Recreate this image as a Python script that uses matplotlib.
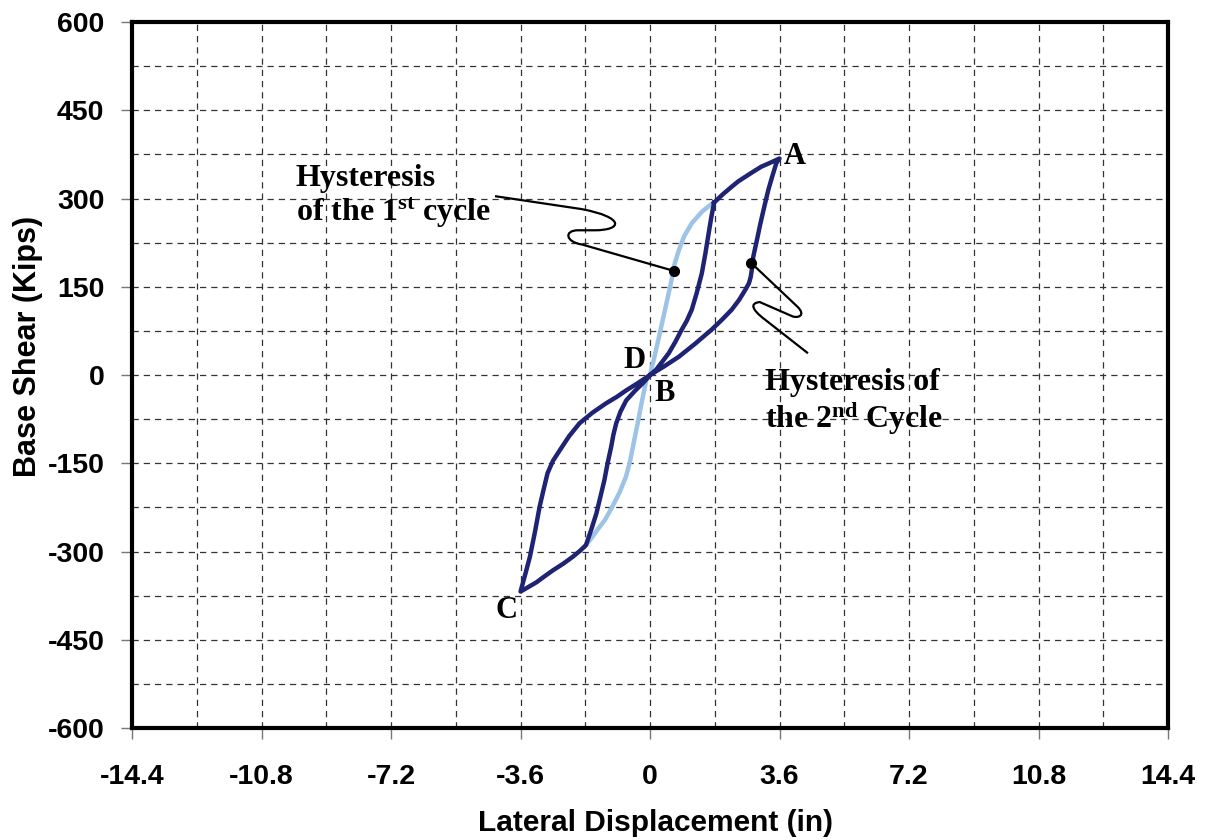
import matplotlib
matplotlib.use("Agg")
import matplotlib.pyplot as plt
from matplotlib.path import Path
from matplotlib.patches import PathPatch
from matplotlib.ticker import MultipleLocator

plt.rcParams['font.family'] = ['Liberation Sans', 'DejaVu Sans']
plt.rcParams['axes.unicode_minus'] = False
plt.rcParams['mathtext.fontset'] = 'custom'
plt.rcParams['mathtext.rm'] = 'Liberation Serif:bold'
plt.rcParams['mathtext.it'] = 'Liberation Serif:bold'
plt.rcParams['mathtext.bf'] = 'Liberation Serif:bold'

# 1st cycle (light blue)
cyc1_x = [-1.78, -1.60, -1.45, -1.25, -1.05, -0.85, -0.67, -0.55, -0.44, -0.33, -0.22, -0.10, 0.0,
          0.12, 0.25, 0.42, 0.58, 0.68, 0.80, 0.95, 1.16, 1.45, 1.76]
cyc1_y = [-289, -275, -262, -246, -224, -200, -173, -145, -111, -78, -43, -8, 0,
          30, 65, 112, 156, 188, 212, 236, 258, 278, 293]

# 2nd cycle (dark blue), one closed path
cyc2_x = [1.78, 1.70, 1.63, 1.54, 1.44, 1.30, 1.16, 1.02, 0.88, 0.70, 0.52, 0.17, 0.0,
          -0.17, -0.42, -0.66, -0.82, -0.94, -1.02, -1.08, -1.18, -1.27, -1.38, -1.49, -1.63, -1.78,
          -1.95, -2.15, -2.42, -2.70, -2.93, -3.15, -3.40, -3.60,
          -3.47, -3.34, -3.20, -3.07, -2.96, -2.85, -2.70, -2.51, -2.25, -1.96, -1.60, -1.22, -0.92, -0.66, -0.32, 0.0,
          0.40, 0.80, 1.25, 1.71, 2.00, 2.27, 2.48, 2.65, 2.75, 2.80, 2.84, 2.87, 2.97, 3.07, 3.18, 3.29, 3.40, 3.51, 3.60,
          3.35, 3.09, 2.88, 2.65, 2.45, 2.27, 2.02, 1.78]
cyc2_y = [293, 267, 241, 207, 173, 140, 111, 92, 77, 56, 37, 9, 0,
          -12, -27, -43, -62, -82, -102, -122, -150, -179, -207, -235, -262, -289,
          -299, -309, -321, -332, -342, -352, -361, -368,
          -339, -309, -267, -224, -195, -167, -146, -128, -104, -82, -64, -48, -37, -26, -13, 0,
          15, 31, 53, 77, 94, 111, 128, 145, 156, 167, 183, 201, 229, 258, 287, 315, 338, 360, 368,
          361, 354, 346, 337, 329, 320, 307, 293]

x_ticks = [-14.4, -10.8, -7.2, -3.6, 0, 3.6, 7.2, 10.8, 14.4]
x_labels = ["-14.4", "-10.8", "-7.2", "-3.6", "0", "3.6", "7.2", "10.8", "14.4"]
y_ticks = [-600, -450, -300, -150, 0, 150, 300, 450, 600]

point_labels = ["A", "B", "C", "D"]
point_x = [4.03, 0.40, -3.98, -0.42]
point_y = [372, -32, -400, 24]

fig = plt.figure(figsize=(12.07, 8.4), dpi=100)
ax = fig.add_axes([0.1094, 0.1333, 0.8583, 0.8405])

ax.plot(cyc1_x, cyc1_y, color="#9dc3e6", lw=3.2, zorder=3, solid_capstyle="round",
        solid_joinstyle="round")
ax.plot(cyc2_x, cyc2_y, color="#1f2374", lw=3.2, zorder=4, solid_joinstyle="round")

ax.set_xlim(-14.4, 14.4)
ax.set_ylim(-600, 600)
ax.set_xticks(x_ticks)
ax.set_xticklabels(x_labels)
ax.set_yticks(y_ticks)
ax.xaxis.set_minor_locator(MultipleLocator(1.8))
ax.yaxis.set_minor_locator(MultipleLocator(75))
ax.grid(True, which="both", color="#333333", ls=(0, (5, 4)), lw=0.9)
ax.tick_params(which="minor", length=0)
ax.tick_params(which="major", length=8, width=1, color="#777777", labelsize=20.5)
ax.tick_params(axis="x", pad=18)
ax.tick_params(axis="y", pad=12)
for lab in ax.get_xticklabels() + ax.get_yticklabels():
    lab.set_fontweight("bold")
for s in ax.spines.values():
    s.set_linewidth(3)
    s.set_color("black")

ax.set_xlabel("Lateral Displacement (in)", fontsize=21.5, fontweight="bold")
ax.set_ylabel("Base Shear (Kips)", fontsize=22, fontweight="bold")
ax.xaxis.set_label_coords(0.505, -0.115)
ax.yaxis.set_label_coords(-0.086, 0.541)

serif = ['Liberation Serif', 'DejaVu Serif']
for lab, px, py in zip(point_labels, point_x, point_y):
    ax.text(px, py, lab, family=serif, fontweight="bold", fontsize=22,
            ha="center", va="center", zorder=6)

ax.text(-9.85, 358, "Hysteresis\nof the 1$^{\\mathrm{st}}$ cycle", family=serif,
        fontweight="bold", fontsize=23, ha="left", va="top", linespacing=1.1, zorder=6)
ax.text(3.2, 12, "Hysteresis of\nthe 2$^{\\mathrm{nd}}$ Cycle", family=serif,
        fontweight="bold", fontsize=23, ha="left", va="top", linespacing=1.1, zorder=6)

# squiggly leader lines
lead1 = Path([(-4.31, 304), (-1.90, 282), (-0.70, 268), (-0.75, 246), (-1.55, 246),
              (-2.00, 246), (-2.40, 246), (-2.35, 226), (-1.90, 222), (0.66, 177)],
             [Path.MOVETO, Path.LINETO, Path.CURVE4, Path.CURVE4, Path.CURVE4,
              Path.LINETO, Path.CURVE4, Path.CURVE4, Path.CURVE4, Path.LINETO])
lead2 = Path([(2.82, 190), (4.10, 116), (4.35, 101), (4.10, 96), (3.95, 100),
              (3.05, 124), (2.75, 122), (2.85, 110), (3.20, 94), (4.39, 37)],
             [Path.MOVETO, Path.LINETO, Path.CURVE4, Path.CURVE4, Path.CURVE4,
              Path.LINETO, Path.CURVE4, Path.CURVE4, Path.CURVE4, Path.LINETO])
for p in (lead1, lead2):
    ax.add_patch(PathPatch(p, fc="none", ec="black", lw=1.6, zorder=5))
ax.plot([0.66, 2.82], [177, 190], "o", color="black", ms=7, zorder=7)

fig.savefig("out.png", dpi=100)
